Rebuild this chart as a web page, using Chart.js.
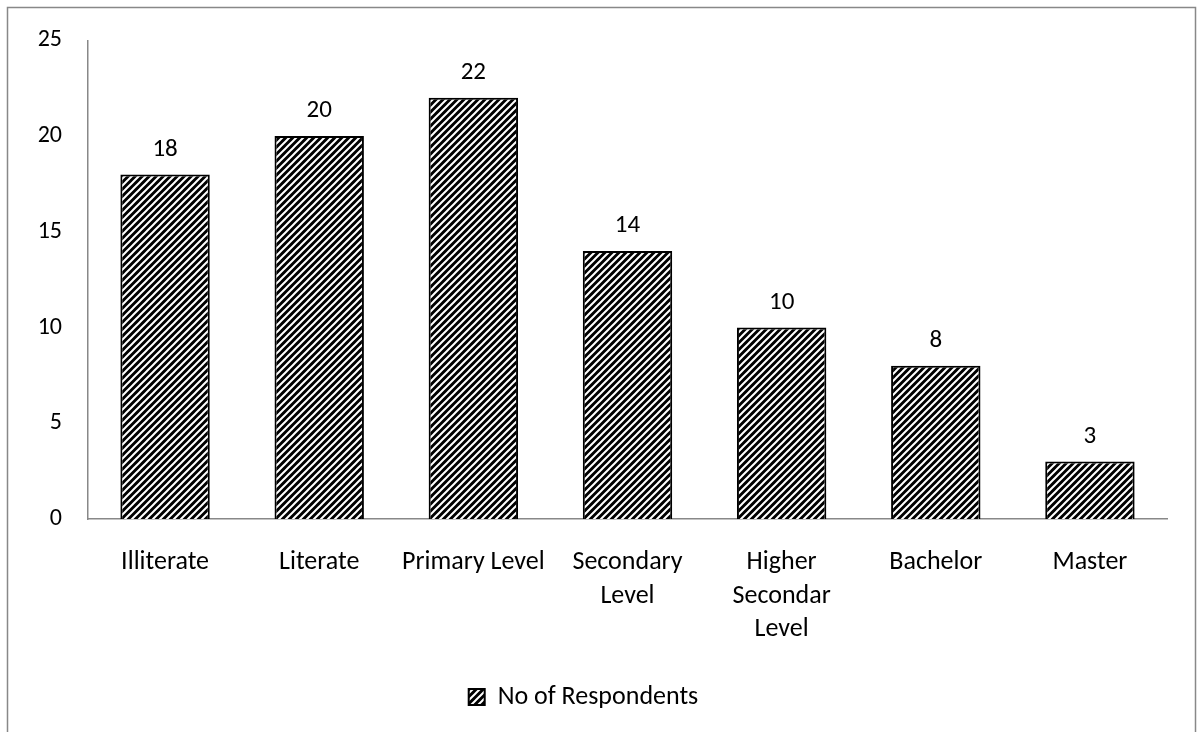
<!DOCTYPE html>
<html>
<head>
<meta charset="utf-8">
<script src="https://cdn.jsdelivr.net/npm/chart.js@4/dist/chart.umd.min.js"></script>
<style>
  html, body { margin: 0; padding: 0; background: #fff; }
  #wrap { width: 1197px; height: 732px; }
</style>
</head>
<body>
<div id="wrap"><canvas id="c" width="1197" height="732"></canvas></div>
<script>
// Education level of respondents
const categories = ['Illiterate', 'Literate', 'Primary Level', ['Secondary', 'Level'], ['Higher', 'Secondar', 'Level'], 'Bachelor', 'Master'];
const respondents = [18, 20, 22, 14, 10, 8, 3];
const seriesName = 'No of Respondents';
const yTicks = [0, 5, 10, 15, 20, 25];

const FONT = 'Carlito, Calibri, Lato, "Open Sans", sans-serif';
const BOTTOM_PAD = 12;

// Dark diagonal hatch used as the bar fill
function hatch() {
  const s = 7;
  const t = document.createElement('canvas');
  t.width = s; t.height = s;
  const g = t.getContext('2d');
  g.fillStyle = '#000';
  g.fillRect(0, 0, s, s);
  g.strokeStyle = '#fff';
  g.lineWidth = 2.0;
  g.beginPath();
  g.moveTo(-1, s + 1); g.lineTo(s + 1, -1);
  g.moveTo(-2, 2); g.lineTo(2, -2);
  g.moveTo(s - 2, s + 2); g.lineTo(s + 2, s - 2);
  g.stroke();
  return g.createPattern(t, 'repeat');
}
const pattern = hatch();

// Value labels above each bar
const valueLabels = {
  id: 'valueLabels',
  afterDatasetsDraw(chart) {
    const ctx = chart.ctx;
    const meta = chart.getDatasetMeta(0);
    ctx.save();
    ctx.font = '25px ' + FONT;
    ctx.fillStyle = '#000';
    ctx.textAlign = 'center';
    ctx.textBaseline = 'middle';
    meta.data.forEach((bar, i) => {
      ctx.fillText(String(chart.data.datasets[0].data[i]), bar.x, bar.y - 25);
    });
    ctx.restore();
  }
};

// Thin frame around the whole chart
const frame = {
  id: 'frame',
  afterDraw(chart) {
    const ctx = chart.ctx;
    ctx.save();
    ctx.strokeStyle = '#888';
    ctx.lineWidth = 1.5;
    ctx.strokeRect(7.5, 7.5, 1188, 800);
    ctx.restore();
  }
};

new Chart(document.getElementById('c'), {
  type: 'bar',
  data: {
    labels: categories,
    datasets: [{
      label: seriesName,
      data: respondents,
      backgroundColor: pattern,
      borderColor: '#000',
      borderWidth: 2,
      borderSkipped: 'bottom',
      categoryPercentage: 1,
      barPercentage: 0.58
    }]
  },
  options: {
    responsive: false,
    animation: false,
    layout: { padding: { top: 37, right: 30, left: 0, bottom: BOTTOM_PAD } },
    plugins: {
      legend: {
        position: 'bottom',
        labels: {
          font: { family: FONT, size: 26 },
          color: '#000',
          boxWidth: 16,
          boxHeight: 16,
          padding: 10
        }
      },
      tooltip: { enabled: false }
    },
    scales: {
      x: {
        grid: { display: false, drawTicks: false },
        border: { display: true, color: '#888', width: 1.5 },
        ticks: {
          font: { family: FONT, size: 26, lineHeight: 1.29 },
          color: '#000',
          maxRotation: 0,
          autoSkip: false,
          padding: 27
        },
        afterFit(scale) {
          const lg = scale.chart.legend;
          scale.height = 732 - BOTTOM_PAD - (lg ? lg.height : 46) - 519;
        }
      },
      y: {
        min: 0,
        max: 25,
        afterBuildTicks(scale) { scale.ticks = yTicks.map(v => ({ value: v })); },
        grid: { display: false, drawTicks: false },
        border: { display: true, color: '#888', width: 1.5 },
        ticks: {
          font: { family: FONT, size: 24 },
          color: '#000',
          padding: 26
        },
        afterFit(scale) { scale.width = 88; }
      }
    }
  },
  plugins: [valueLabels, frame]
});
</script>
</body>
</html>
